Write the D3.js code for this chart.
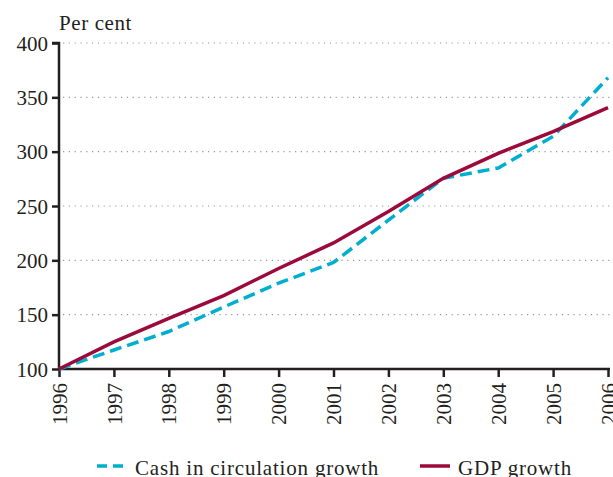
<!DOCTYPE html>
<html>
<head>
<meta charset="utf-8">
<script src="https://cdn.jsdelivr.net/npm/d3@7"></script>
<style>
  body { margin: 0; background: #fff; }
  svg { display: block; font-family: "Liberation Serif", "DejaVu Serif", serif; }
  .grid line { stroke: #999; stroke-width: 1.2; stroke-dasharray: 1.2 4.6; }
</style>
</head>
<body>
<div id="chart"></div>
<script>
const years = [1996, 1997, 1998, 1999, 2000, 2001, 2002, 2003, 2004, 2005, 2006];
const cashGrowth = [100, 117.5, 134.5, 157, 179, 198, 237, 275.5, 285, 314, 368];
const gdpGrowth = [100, 125, 146.5, 167.5, 192.5, 216, 245, 275.5, 298.5, 318.5, 340.5];
const yTicks = [100, 150, 200, 250, 300, 350, 400];

const series = [
  { name: "Cash in circulation growth", values: cashGrowth, color: "#00aecf", dash: "12 6" },
  { name: "GDP growth", values: gdpGrowth, color: "#9b0a3a", dash: null },
];

const width = 613;
const height = 477;
const margin = { top: 43, right: 5, bottom: 108, left: 59 };

const x = d3
  .scaleLinear()
  .domain([1996, 2006])
  .range([margin.left, 608]);
const y = d3
  .scaleLinear()
  .domain([100, 400])
  .range([height - margin.bottom, margin.top]);

const svg = d3
  .select("#chart")
  .append("svg")
  .attr("width", width)
  .attr("height", height);

// dotted gridlines
svg
  .append("g")
  .attr("class", "grid")
  .selectAll("line")
  .data(yTicks.filter((d) => d > 100))
  .join("line")
  .attr("x1", margin.left + 4)
  .attr("x2", width)
  .attr("y1", (d) => y(d))
  .attr("y2", (d) => y(d));

// y axis
const gy = svg
  .append("g")
  .attr("transform", `translate(${margin.left},0)`)
  .call(d3.axisLeft(y).tickValues(yTicks).tickSize(7).tickPadding(4))
  .attr("font-size", null)
  .attr("font-family", null);
gy.select(".domain").attr("stroke", "#231f20").attr("stroke-width", 2.5).attr("d", `M-7,${y(400)}H0V${y(100)}`);
gy.selectAll(".tick line").attr("stroke", "#231f20").attr("stroke-width", 2.5);
gy.selectAll(".tick text")
  .attr("fill", "#231f20")
  .style("font-size", "21px")
  .attr("dy", "0.34em");

// x axis
const gx = svg
  .append("g")
  .attr("transform", `translate(0,${y(100)})`)
  .call(d3.axisBottom(x).tickValues(years).tickFormat(d3.format("d")).tickSize(8))
  .attr("font-size", null)
  .attr("font-family", null);
gx.select(".domain").attr("stroke", "#231f20").attr("stroke-width", 2.5).attr("d", `M${margin.left},0H610`);
gx.selectAll(".tick line").attr("stroke", "#231f20").attr("stroke-width", 2.5);
gx.selectAll(".tick text")
  .attr("fill", "#231f20")
  .style("font-size", "21px")
  .attr("text-anchor", "end")
  .attr("transform", "rotate(-90)")
  .attr("x", -14)
  .attr("y", 0)
  .attr("dy", "0.34em");

// axis title
svg
  .append("text")
  .attr("x", margin.left)
  .attr("y", 30)
  .attr("fill", "#231f20")
  .style("font-size", "21px")
  .style("letter-spacing", "0.6px")
  .text("Per cent");

// lines
const line = d3
  .line()
  .x((d, i) => x(years[i]))
  .y((d) => y(d));

svg
  .append("g")
  .selectAll("path")
  .data(series)
  .join("path")
  .attr("fill", "none")
  .attr("stroke", (d) => d.color)
  .attr("stroke-width", 3.5)
  .attr("stroke-dasharray", (d) => d.dash)
  .attr("d", (d) => line(d.values));

// legend
const legendX = [97, 420];
const legend = svg
  .append("g")
  .selectAll("g")
  .data(series)
  .join("g")
  .attr("transform", (d, i) => `translate(${legendX[i]},466)`);
legend
  .append("line")
  .attr("x1", 0)
  .attr("x2", (d, i) => (i === 0 ? 28 : 30))
  .attr("stroke", (d) => d.color)
  .attr("stroke-width", 3.5)
  .attr("stroke-dasharray", (d, i) => (i === 0 ? "10 6" : null));
legend
  .append("text")
  .attr("x", 38)
  .attr("y", 9)
  .attr("fill", "#231f20")
  .style("font-size", "21px")
  .style("letter-spacing", "0.8px")
  .text((d) => d.name);
</script>
</body>
</html>
